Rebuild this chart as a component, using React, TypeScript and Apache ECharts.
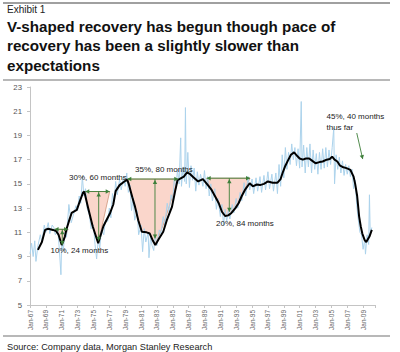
import React, { useEffect, useRef } from 'react';
import * as echarts from 'echarts';

const titleLines = [
  'V-shaped recovery has begun though pace of',
  'recovery has been a slightly slower than',
  'expectations',
];
const exhibitText = 'Exhibit 1';
const sourceText = 'Source: Company data, Morgan Stanley Research';

// [year, value] smoothed series (black)
const smoothed: [number, number][] = [
  [1968.0, 9.55], [1968.5, 10.2], [1968.9, 11.2], [1969.3, 11.3], [1969.9, 11.2],
  [1970.3, 11.1], [1970.6, 10.8], [1971.0, 9.95], [1971.4, 10.65], [1971.6, 11.25],
  [1971.9, 11.9], [1972.25, 12.6], [1972.9, 12.85], [1973.3, 13.6], [1973.7, 14.3],
  [1973.85, 14.35], [1974.3, 13.1], [1974.9, 11.5], [1975.6, 10.1], [1976.25, 11.5],
  [1977.1, 12.6], [1977.5, 13.3], [1977.8, 14.4], [1978.3, 14.9], [1978.9, 15.2],
  [1979.25, 15.35], [1979.45, 15.0], [1979.9, 13.9], [1980.25, 13.1], [1980.65, 12.0],
  [1981.1, 11.05], [1981.7, 11.0], [1982.1, 10.9], [1982.5, 10.3], [1982.8, 9.95],
  [1983.2, 10.4], [1983.8, 11.05], [1984.25, 12.0], [1984.9, 13.1], [1985.3, 14.4],
  [1985.6, 15.3], [1986.0, 15.45], [1986.4, 15.6], [1986.8, 15.95], [1987.2, 15.8],
  [1987.6, 15.55], [1988.2, 15.2], [1988.8, 15.4], [1989.3, 15.0], [1989.9, 14.5],
  [1990.4, 13.9], [1990.8, 13.4], [1991.2, 12.7], [1991.6, 12.35], [1992.0, 12.4],
  [1992.4, 12.6], [1992.9, 13.0], [1993.3, 13.4], [1993.7, 14.0], [1994.1, 14.5],
  [1994.7, 15.05], [1995.1, 14.8], [1995.6, 14.95], [1996.0, 14.9], [1996.5, 15.0],
  [1997.0, 15.2], [1997.6, 15.1], [1998.2, 15.1], [1998.6, 15.4], [1998.9, 16.0],
  [1999.2, 16.5], [1999.5, 16.9], [1999.9, 17.4], [2000.3, 17.6], [2000.7, 17.3],
  [2001.0, 17.1], [2001.4, 17.0], [2001.8, 17.1], [2002.2, 17.1], [2002.6, 16.9],
  [2003.0, 16.7], [2003.5, 16.8], [2003.9, 16.85], [2004.4, 17.0], [2004.8, 17.05],
  [2005.1, 17.25], [2005.4, 17.0], [2005.75, 16.85], [2006.1, 16.5], [2006.4, 16.4],
  [2006.9, 16.3], [2007.4, 16.15], [2007.8, 15.6], [2008.0, 15.0], [2008.25, 14.0],
  [2008.5, 12.3], [2008.7, 11.5], [2008.9, 10.9], [2009.2, 10.35], [2009.4, 10.2],
  [2009.8, 10.65], [2010.1, 11.2],
];

// [year, value] monthly raw series (light blue)
const raw: [number, number][] = [
  [1967.0, 9.2], [1967.2, 10.1], [1967.4, 9.0], [1967.6, 10.3], [1967.75, 8.6],
  [1968.0, 9.9], [1968.3, 10.8], [1968.5, 10.2], [1968.8, 11.6], [1969.0, 11.0],
  [1969.3, 11.8], [1969.5, 10.9], [1969.8, 11.6], [1970.0, 11.4], [1970.2, 10.8],
  [1970.5, 11.2], [1970.7, 9.6], [1970.9, 7.5], [1971.0, 10.3], [1971.2, 9.5],
  [1971.4, 11.0], [1971.6, 10.6], [1971.9, 13.3], [1972.2, 11.8], [1972.5, 12.5],
  [1972.8, 13.2], [1973.0, 12.8], [1973.2, 14.0], [1973.4, 13.4], [1973.6, 15.6],
  [1973.8, 14.0], [1974.0, 14.6], [1974.2, 13.0], [1974.5, 12.4], [1974.7, 11.3],
  [1975.0, 11.6], [1975.2, 10.0], [1975.4, 8.8], [1975.6, 10.4], [1975.8, 9.7],
  [1976.0, 11.2], [1976.3, 10.8], [1976.5, 12.0], [1976.8, 11.9], [1977.0, 13.0],
  [1977.2, 12.2], [1977.4, 14.2], [1977.6, 13.5], [1977.8, 15.2], [1978.0, 14.1],
  [1978.3, 15.4], [1978.5, 14.5], [1978.8, 15.6], [1979.0, 14.8], [1979.2, 15.9],
  [1979.4, 14.3], [1979.6, 14.9], [1979.8, 12.8], [1980.0, 13.9], [1980.2, 12.0],
  [1980.5, 12.8], [1980.7, 10.8], [1981.0, 11.6], [1981.2, 9.4], [1981.4, 11.3],
  [1981.6, 10.2], [1981.9, 11.0], [1982.0, 8.9], [1982.2, 10.6], [1982.4, 9.9],
  [1982.6, 9.5], [1982.8, 10.8], [1983.0, 9.9], [1983.3, 11.2], [1983.5, 10.9],
  [1983.8, 12.3], [1984.0, 11.6], [1984.3, 13.4], [1984.5, 12.7], [1984.8, 14.1],
  [1985.0, 13.6], [1985.2, 15.5], [1985.4, 14.6], [1985.6, 16.2], [1985.8, 15.0],
  [1986.0, 18.8], [1986.1, 14.8], [1986.3, 16.4], [1986.5, 15.2], [1986.6, 21.3],
  [1986.7, 15.0], [1986.9, 17.6], [1987.1, 14.7], [1987.3, 16.5], [1987.5, 15.3],
  [1987.7, 16.3], [1987.9, 14.4], [1988.1, 16.0], [1988.3, 14.9], [1988.5, 15.8],
  [1988.8, 14.8], [1989.0, 16.1], [1989.2, 14.6], [1989.4, 15.6], [1989.6, 14.0],
  [1989.8, 15.0], [1990.0, 13.6], [1990.3, 14.6], [1990.5, 12.9], [1990.7, 13.8],
  [1991.0, 12.3], [1991.2, 13.3], [1991.4, 11.6], [1991.6, 12.9], [1991.8, 11.9],
  [1992.0, 12.8], [1992.2, 12.1], [1992.5, 13.3], [1992.7, 12.6], [1993.0, 13.8],
  [1993.2, 13.0], [1993.5, 14.3], [1993.7, 13.6], [1994.0, 15.1], [1994.2, 14.0],
  [1994.5, 15.6], [1994.7, 14.5], [1995.0, 15.4], [1995.2, 14.2], [1995.5, 15.5],
  [1995.7, 14.4], [1996.0, 15.6], [1996.2, 14.3], [1996.5, 15.7], [1996.7, 14.5],
  [1997.0, 16.0], [1997.2, 14.6], [1997.5, 15.8], [1997.7, 14.4], [1998.0, 15.9],
  [1998.2, 14.2], [1998.4, 16.6], [1998.6, 14.8], [1998.8, 17.4], [1999.0, 15.5],
  [1999.2, 18.0], [1999.4, 16.2], [1999.6, 17.6], [1999.8, 16.6], [2000.0, 18.3],
  [2000.2, 17.0], [2000.4, 18.0], [2000.6, 16.5], [2000.8, 17.9], [2001.0, 16.3],
  [2001.2, 21.8], [2001.3, 16.4], [2001.5, 18.2], [2001.7, 15.9], [2001.9, 18.0],
  [2002.1, 16.4], [2002.3, 18.3], [2002.5, 15.9], [2002.7, 17.8], [2002.9, 16.2],
  [2003.1, 17.5], [2003.3, 15.8], [2003.5, 17.6], [2003.7, 16.2], [2003.9, 17.9],
  [2004.1, 16.3], [2004.3, 18.0], [2004.5, 16.4], [2004.7, 17.8], [2004.9, 16.6],
  [2005.1, 18.0], [2005.3, 19.6], [2005.4, 15.0], [2005.6, 17.4], [2005.8, 16.2],
  [2006.0, 17.2], [2006.2, 15.9], [2006.4, 16.9], [2006.6, 15.7], [2006.8, 16.6],
  [2007.0, 15.8], [2007.2, 16.5], [2007.4, 15.6], [2007.6, 16.2], [2007.8, 14.6],
  [2008.0, 15.3], [2008.2, 13.2], [2008.4, 12.0], [2008.6, 11.0], [2008.8, 10.8],
  [2009.0, 9.6], [2009.2, 10.4], [2009.3, 9.2], [2009.5, 10.8], [2009.7, 10.0],
  [2009.8, 14.1], [2009.9, 10.8], [2010.1, 11.4],
];

// shaded drawdown regions, [year, value] vertices
const drawdowns: [number, number][][] = [
  [[1970.1, 11.25], [1970.6, 10.8], [1971.0, 9.95], [1971.4, 10.65], [1971.8, 11.25]],
  [[1973.85, 14.37], [1974.3, 13.1], [1974.9, 11.5], [1975.6, 10.1], [1977.05, 14.37]],
  [[1979.27, 15.4], [1979.9, 13.9], [1980.25, 13.1], [1980.65, 12.0], [1981.1, 11.05],
   [1981.7, 11.0], [1982.1, 10.9], [1982.5, 10.3], [1982.8, 9.95], [1983.8, 11.6],
   [1984.6, 13.2], [1985.7, 15.4]],
  [[1989.28, 15.47], [1989.6, 14.8], [1989.9, 14.5], [1990.4, 13.9], [1990.8, 13.4],
   [1991.2, 12.7], [1991.6, 12.35], [1992.4, 12.6], [1993.4, 13.6], [1994.74, 15.47]],
];
// [startYear, endYear, value]
const spanArrows: [number, number, number][] = [
  [1970.1, 1971.8, 11.25], [1973.97, 1977.05, 14.37], [1979.27, 1985.7, 15.4], [1989.28, 1994.74, 15.47],
];
// [year, topValue, bottomValue]
const depthArrows: [number, number, number][] = [
  [1971.07, 11.25, 9.95], [1975.66, 14.37, 10.3], [1982.76, 15.4, 10.5], [1992.13, 15.47, 12.7],
];
const pointerArrow: [number, number][] = [[2008.2, 19.2], [2008.95, 17.05]];

const annotationLabels = [
  { text: '10%, 24 months', x: 50.5, y: 250 },
  { text: '30%, 60 months', x: 69, y: 177.5 },
  { text: '35%, 80 months', x: 135, y: 169.5 },
  { text: '20%, 84 months', x: 216, y: 223 },
  { text: '45%, 40 months', x: 326.5, y: 116 },
  { text: 'thus far', x: 326.5, y: 127 },
];

const yMin = 5, yMax = 23, yStep = 2;
const xMaxMonths = 522;

const toM = (y: number) => (y - 1967) * 12;
const GREEN = '#3e7f3a';
const FONT = "'Liberation Sans', Arial, sans-serif";

function arrowHead(tx: number, ty: number, dx: number, dy: number, s: number) {
  const len = Math.hypot(dx, dy) || 1;
  const ux = dx / len, uy = dy / len;
  const nx = -uy, ny = ux;
  return {
    type: 'polygon',
    shape: {
      points: [
        [tx, ty],
        [tx - ux * s + nx * s * 0.55, ty - uy * s + ny * s * 0.55],
        [tx - ux * s - nx * s * 0.55, ty - uy * s - ny * s * 0.55],
      ],
    },
    style: { fill: GREEN },
  };
}

export default function App() {
  const ref = useRef<HTMLDivElement>(null);
  useEffect(() => {
    if (!ref.current) return;
    const chart = echarts.init(ref.current, undefined, { renderer: 'svg' });

    const graphics: any[] = [
      { type: 'line', shape: { x1: 3, y1: 3, x2: 390, y2: 3 }, style: { stroke: '#a0a0a0', lineWidth: 2 } },
      { type: 'text', x: 7, y: 9.5, style: { text: exhibitText, font: `10px ${FONT}`, fill: '#222', textVerticalAlign: 'middle' } },
      ...titleLines.map((t, i) => ({
        type: 'text', x: 7, y: 26.7 + i * 19.2,
        style: { text: t, font: `bold 15.2px ${FONT}`, fill: '#111', textVerticalAlign: 'middle' },
      })),
      { type: 'line', shape: { x1: 3, y1: 80, x2: 390, y2: 80 }, style: { stroke: '#a0a0a0', lineWidth: 1.5 } },
      { type: 'line', shape: { x1: 3, y1: 336, x2: 390, y2: 336 }, style: { stroke: '#a0a0a0', lineWidth: 1.5 } },
      { type: 'text', x: 7, y: 346.5, style: { text: sourceText, font: `9.2px ${FONT}`, fill: '#222', textVerticalAlign: 'middle' } },
      ...annotationLabels.map((l) => ({
        type: 'text', x: l.x, y: l.y, z: 100,
        style: { text: l.text, font: `8px ${FONT}`, fill: '#1a1a1a', textVerticalAlign: 'middle' },
      })),
    ];

    chart.setOption({
      animation: false,
      backgroundColor: '#fff',
      grid: { left: 30, right: 25, top: 87, bottom: 47, containLabel: false },
      xAxis: {
        type: 'value', min: 0, max: xMaxMonths, interval: 24,
        axisLine: { lineStyle: { color: '#c4c4c4', width: 1 } },
        axisTick: { show: true, length: 3, lineStyle: { color: '#c4c4c4' } },
        splitLine: { show: false },
        axisLabel: {
          rotate: 90, margin: 5, fontSize: 6.5, color: '#666', fontFamily: FONT,
          formatter: (v: number) => {
            if (v % 24 !== 0) return '';
            const yy = (67 + v / 12) % 100;
            return 'Jan-' + String(yy).padStart(2, '0');
          },
        },
      },
      yAxis: {
        type: 'value', min: yMin, max: yMax, interval: yStep,
        axisLine: { show: true, lineStyle: { color: '#c4c4c4', width: 1 } },
        axisTick: { show: true, length: 3, lineStyle: { color: '#c4c4c4' } },
        splitLine: { show: false },
        axisLabel: { fontSize: 7.8, color: '#555', margin: 8, fontFamily: FONT },
      },
      series: [
        {
          type: 'custom', z: 1, silent: true,
          data: [[0, yMin]],
          renderItem: (_p: any, api: any) => ({
            type: 'group',
            children: drawdowns.map((poly) => ({
              type: 'polygon',
              shape: { points: poly.map(([y, v]) => api.coord([toM(y), v])) },
              style: { fill: '#fad6cb', stroke: '#c98a6c', lineWidth: 0.7 },
            })),
          }),
        },
        {
          type: 'line', z: 2, silent: true, symbol: 'none',
          data: raw.map(([y, v]) => [toM(y), v]),
          lineStyle: { color: '#acd3ec', width: 1 },
        },
        {
          type: 'line', z: 3, silent: true, symbol: 'none',
          data: smoothed.map(([y, v]) => [toM(y), v]),
          lineStyle: { color: '#000', width: 2 },
        },
        {
          type: 'custom', z: 4, silent: true,
          data: [[0, yMin]],
          renderItem: (_p: any, api: any) => {
            const children: any[] = [];
            spanArrows.forEach(([a, b, v]) => {
              const p1 = api.coord([toM(a), v]);
              const p2 = api.coord([toM(b), v]);
              children.push({ type: 'line', shape: { x1: p1[0], y1: p1[1], x2: p2[0], y2: p2[1] }, style: { stroke: GREEN, lineWidth: 0.9 } });
              children.push(arrowHead(p1[0], p1[1], -1, 0, 4));
              children.push(arrowHead(p2[0], p2[1], 1, 0, 4));
            });
            depthArrows.forEach(([x, top, bot]) => {
              const p1 = api.coord([toM(x), top]);
              const p2 = api.coord([toM(x), bot]);
              children.push({ type: 'line', shape: { x1: p1[0], y1: p1[1], x2: p2[0], y2: p2[1] }, style: { stroke: GREEN, lineWidth: 0.9 } });
              children.push(arrowHead(p1[0], p1[1] + 1, 0, -1, 4));
              children.push(arrowHead(p2[0], p2[1], 0, 1, 4));
            });
            const q1 = api.coord([toM(pointerArrow[0][0]), pointerArrow[0][1]]);
            const q2 = api.coord([toM(pointerArrow[1][0]), pointerArrow[1][1]]);
            children.push({ type: 'line', shape: { x1: q1[0], y1: q1[1], x2: q2[0], y2: q2[1] }, style: { stroke: GREEN, lineWidth: 0.9 } });
            children.push(arrowHead(q2[0], q2[1], q2[0] - q1[0], q2[1] - q1[1], 4));
            return { type: 'group', children };
          },
        },
      ],
      graphic: graphics,
    });
    return () => chart.dispose();
  }, []);
  return (
    <div
      ref={ref}
      style={{ position: 'fixed', left: 0, top: 0, width: 400, height: 352, background: '#fff' }}
    />
  );
}
